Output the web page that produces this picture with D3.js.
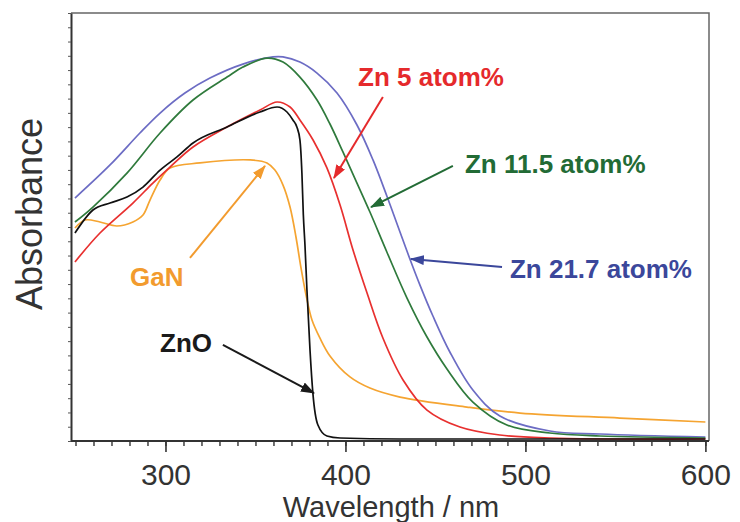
<!DOCTYPE html>
<html>
<head>
<meta charset="utf-8">
<script src="https://cdn.jsdelivr.net/npm/d3@7"></script>
<style>
  body { margin: 0; background: #fff; }
  text { font-family: "Liberation Sans", Arial, sans-serif; }
</style>
</head>
<body>
<script>
// absorbance spectra (arbitrary units)
var wlBlue  = [249.7, 269.2, 285.8, 297, 310.8, 324.7, 343, 359.7, 365.3, 374.7, 384.2, 395.3, 406.4, 415.3, 423, 430.3, 435.8, 441.4, 448.6, 458, 470.8, 485.8, 513.6, 541.4, 600];
var absBlue = [1.703, 1.935, 2.159, 2.299, 2.439, 2.544, 2.642, 2.692, 2.692, 2.656, 2.579, 2.439, 2.215, 1.970, 1.717, 1.465, 1.276, 1.093, 0.876, 0.624, 0.357, 0.175, 0.070, 0.049, 0.028];

var wlGreen  = [249.7, 259.7, 278.6, 297, 315.3, 334.2, 343, 356.4, 365.3, 374.7, 384.2, 391.4, 398.6, 406.4, 413.6, 423, 434.2, 445.3, 456.4, 470.8, 489.7, 513.6, 541.4, 600];
var absGreen = [1.535, 1.640, 1.878, 2.159, 2.390, 2.551, 2.621, 2.684, 2.656, 2.551, 2.390, 2.222, 2.026, 1.808, 1.605, 1.325, 1.002, 0.729, 0.505, 0.273, 0.112, 0.056, 0.035, 0.021];

var wlRed  = [249.7, 263.6, 281.9, 293, 302.5, 315.3, 334.2, 352.5, 362, 369.2, 374.7, 382, 389.7, 397, 404.2, 412, 420.8, 432, 445.3, 463.6, 485.8, 513.6, 600];
var absRed = [1.255, 1.458, 1.668, 1.808, 1.920, 2.061, 2.201, 2.320, 2.376, 2.341, 2.250, 2.110, 1.914, 1.654, 1.339, 1.037, 0.722, 0.428, 0.217, 0.098, 0.042, 0.021, 0.014];

var wlZnO  = [249.7, 259.7, 269.2, 278.6, 287.5, 297, 306.4, 315.3, 334.2, 352.5, 362, 367.5, 370.8, 373, 374.7, 375.8, 376.6, 377.5, 378.6, 380.3, 381.9, 384.7, 389.7, 397, 430, 600];
var absZnO = [1.458, 1.619, 1.668, 1.710, 1.780, 1.899, 1.991, 2.089, 2.201, 2.306, 2.341, 2.306, 2.250, 2.201, 2.110, 1.878, 1.584, 1.374, 1.058, 0.638, 0.336, 0.112, 0.035, 0.021, 0.014, 0.014];

var wlGaN  = [249.7, 255.3, 263.6, 273, 281.9, 287.5, 291.4, 297, 302.5, 319.2, 347, 356.4, 360.8, 365.3, 369.2, 372.5, 375.3, 378.1, 381.4, 385.8, 391.4, 402.5, 413.6, 430.3, 467.5, 497, 552.5, 600];
var absGaN = [1.493, 1.549, 1.535, 1.507, 1.535, 1.584, 1.689, 1.829, 1.913, 1.949, 1.970, 1.949, 1.899, 1.794, 1.640, 1.430, 1.213, 1.023, 0.848, 0.722, 0.596, 0.449, 0.371, 0.308, 0.238, 0.196, 0.161, 0.133];

var xTickLabels = [300, 400, 500, 600];

// annotation labels and arrows (in data units)
var labelText  = ["Zn 5 atom%", "Zn 11.5 atom%", "Zn 21.7 atom%", "GaN", "ZnO"];
var labelColor = ["#e52a2c", "#226b35", "#3b479b", "#f29b2e", "#1a1a1a"];
var labelX     = [407, 466.4, 491.4, 280.3, 297];
var labelY     = [2.488, 1.878, 1.142, 1.086, 0.624];
var arrowFrom  = [[420.8, 2.411], [459.7, 1.928], [487, 1.220], [313.6, 1.283], [331.9, 0.673]];
var arrowTo    = [[393.6, 1.843], [414.2, 1.640], [436.4, 1.276], [355.3, 1.928], [382.5, 0.336]];

var series = [
  { wl: wlGaN,   abs: absGaN,   color: "#f5a431", curve: d3.curveCatmullRom.alpha(0.5) },
  { wl: wlBlue,  abs: absBlue,  color: "#6c6cc4", curve: d3.curveCatmullRom.alpha(0.5) },
  { wl: wlGreen, abs: absGreen, color: "#2f7a3c", curve: d3.curveCatmullRom.alpha(0.5) },
  { wl: wlRed,   abs: absRed,   color: "#e8302f", curve: d3.curveCatmullRom.alpha(0.5) },
  { wl: wlZnO,   abs: absZnO,   color: "#111111", curve: d3.curveMonotoneX }
];

var width = 740, height = 522;
var margin = { left: 71, right: 709, top: 13, bottom: 441 };

var x = d3.scaleLinear().domain([247.5, 602]).range([margin.left, margin.right]);
var y = d3.scaleLinear().domain([0, 3]).range([margin.bottom, margin.top]);

var svg = d3.select("body")
  .append("svg")
  .attr("width", width)
  .attr("height", height);

// frame top / right
svg.append("path")
  .attr("d", "M" + margin.left + "," + margin.top + "H" + margin.right + "V" + margin.bottom)
  .attr("fill", "none")
  .attr("stroke", "#666")
  .attr("stroke-width", 1.5);

// curves
svg.append("g")
  .selectAll("path")
  .data(series)
  .join("path")
  .attr("d", function(s) {
    var line = d3.line()
      .x(function(d) { return x(d[0]); })
      .y(function(d) { return y(d[1]); })
      .curve(s.curve);
    return line(d3.zip(s.wl, s.abs));
  })
  .attr("fill", "none")
  .attr("stroke", function(s) { return s.color; })
  .attr("stroke-width", 1.7);

// x axis: minor ticks every 10 nm, labelled majors
svg.append("g")
  .attr("transform", "translate(0," + margin.bottom + ")")
  .call(d3.axisBottom(x).tickValues(d3.range(250, 601, 10)).tickSize(5).tickFormat(""))
  .call(function(g) { g.select(".domain").remove(); })
  .selectAll("line").attr("stroke", "#333").attr("stroke-width", 1.4);

var xAxis = svg.append("g")
  .attr("transform", "translate(0," + margin.bottom + ")")
  .call(d3.axisBottom(x).tickValues(xTickLabels).tickSize(11).tickSizeOuter(0).tickPadding(12));
xAxis.select(".domain").attr("stroke", "#333").attr("stroke-width", 2)
  .attr("d", "M" + margin.left + ",0H" + margin.right);
xAxis.selectAll("line").attr("stroke", "#333").attr("stroke-width", 1.6);
xAxis.selectAll("text")
  .attr("font-size", 30)
  .attr("fill", "#333")
  .attr("dy", "0.71em")
  .style("font-family", "'Liberation Sans', Arial, sans-serif");

// y axis: unlabelled ticks
var yAxis = svg.append("g")
  .attr("transform", "translate(" + margin.left + ",0)")
  .call(d3.axisLeft(y).tickValues(d3.range(0, 3.001, 0.1)).tickSize(3).tickSizeOuter(0).tickFormat(""));
yAxis.select(".domain").attr("stroke", "#333").attr("stroke-width", 2);
yAxis.selectAll("line").attr("stroke", "#555");

// axis titles
svg.append("text")
  .attr("x", (margin.left + margin.right) / 2 + 1)
  .attr("y", 517)
  .attr("text-anchor", "middle")
  .attr("font-size", 29)
  .attr("fill", "#333")
  .text("Wavelength / nm");

svg.append("text")
  .attr("transform", "translate(42," + 214 + ") rotate(-90)")
  .attr("text-anchor", "middle")
  .attr("font-size", 36)
  .attr("fill", "#333")
  .text("Absorbance");

// arrows
var defs = svg.append("defs");
labelColor.forEach(function(c, i) {
  defs.append("marker")
    .attr("id", "arr" + i)
    .attr("viewBox", "0 0 14 10")
    .attr("refX", 13)
    .attr("refY", 5)
    .attr("markerUnits", "userSpaceOnUse")
    .attr("markerWidth", 14)
    .attr("markerHeight", 10)
    .attr("orient", "auto")
    .append("path")
    .attr("d", "M0,0L14,5L0,10z")
    .attr("fill", c);
});

svg.append("g")
  .selectAll("line")
  .data(arrowFrom)
  .join("line")
  .attr("x1", function(d) { return x(d[0]); })
  .attr("y1", function(d) { return y(d[1]); })
  .attr("x2", function(d, i) { return x(arrowTo[i][0]); })
  .attr("y2", function(d, i) { return y(arrowTo[i][1]); })
  .attr("stroke", function(d, i) { return labelColor[i]; })
  .attr("stroke-width", 2)
  .attr("marker-end", function(d, i) { return "url(#arr" + i + ")"; });

// labels
svg.append("g")
  .selectAll("text")
  .data(labelText)
  .join("text")
  .attr("x", function(d, i) { return x(labelX[i]); })
  .attr("y", function(d, i) { return y(labelY[i]); })
  .attr("font-size", 26)
  .attr("font-weight", "bold")
  .attr("fill", function(d, i) { return labelColor[i]; })
  .text(function(d) { return d; });
</script>
</body>
</html>
